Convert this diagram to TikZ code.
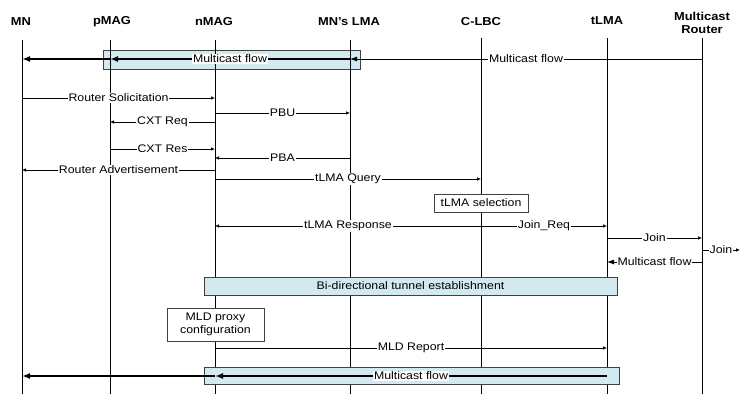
\documentclass[tikz,border=0pt]{standalone}
\usepackage{fontspec}
\setmainfont{Liberation Sans}[FakeStretch=1.12]
\usepackage{tikz}
\usetikzlibrary{arrows.meta,positioning}
\definecolor{bandblue}{RGB}{209,233,239}

\begin{document}
\begin{tikzpicture}[x=1pt,y=-1pt,font=\fontsize{11}{12.5}\selectfont,>={Latex[length=4pt,width=3.6pt]},
  actor/.style={font=\fontsize{11.5}{12.5}\selectfont\bfseries,align=center},
  life/.style={line width=0.8pt},
  msg/.style={->,line width=0.7pt},
  lbl/.style={fill=white,inner sep=1pt},
  flow/.style={line width=1.6pt,-{Latex[length=8pt,width=6pt]}},
  band/.style={draw=black!75,fill=bandblue,line width=0.8pt,inner sep=0pt},
  note/.style={draw=black!75,fill=white,line width=0.8pt,align=center,inner sep=0pt}]
  \useasboundingbox (0,0) rectangle (745,394);

  % participants
  \node[actor] (mn)   at (21,22)  {MN};
  \node[actor] (pmag) at (112,22) {pMAG};
  \node[actor] (nmag) at (214,22) {nMAG};
  \node[actor] (lma)  at (349,22) {MN’s LMA};
  \node[actor] (clbc) at (481,22) {C-LBC};
  \node[actor] (tlma) at (607,21) {tLMA};
  \node[actor] (mr)   at (702,23) {Multicast\\Router};

  % top of each lifeline
  \coordinate (mn-t)   at (22,40);
  \coordinate (pmag-t) at (110,40);
  \coordinate (nmag-t) at (215,40);
  \coordinate (lma-t)  at (350,40);
  \coordinate (clbc-t) at (481,38);
  \coordinate (tlma-t) at (607,38);
  \coordinate (mr-t)   at (702,38);
  \coordinate (bot)    at (0,394);

  % message rows
  \coordinate (r0)  at (0,59);
  \coordinate (r1)  at (0,98);
  \coordinate (r2)  at (0,113);
  \coordinate (r3)  at (0,122);
  \coordinate (r4)  at (0,149);
  \coordinate (r5)  at (0,158);
  \coordinate (r6)  at (0,170);
  \coordinate (r7)  at (0,179);
  \coordinate (r8)  at (0,226);
  \coordinate (r9)  at (0,238);
  \coordinate (r10) at (0,250);
  \coordinate (r11) at (0,262);
  \coordinate (r12) at (0,348);
  \coordinate (r13) at (0,376);
  \coordinate (joinEnd) at (740,250);

  \draw[band] (103,50) rectangle (360,69);

  % lifelines
  \foreach \p in {mn,pmag,nmag,lma,clbc,tlma,mr}
    \draw[life] (\p-t) -- (\p-t |- bot);

  % multicast flow before handover
  \draw[->,line width=0.9pt,>={Latex[length=7pt,width=5pt]}] (mr-t |- r0) -- node[lbl] {Multicast flow} (lma-t |- r0);
  \draw[flow] (lma-t |- r0) -- node[lbl] {Multicast flow} (pmag-t |- r0);
  \draw[flow] (pmag-t |- r0) -- (mn-t |- r0);

  \draw[msg] (mn-t |- r1) -- node[lbl] {Router Solicitation} (nmag-t |- r1);
  \draw[msg] (nmag-t |- r2) -- node[lbl] {PBU} (lma-t |- r2);
  \draw[msg] (nmag-t |- r3) -- node[lbl] {CXT Req} (pmag-t |- r3);
  \draw[msg] (pmag-t |- r4) -- node[lbl] {CXT Res} (nmag-t |- r4);
  \draw[msg] (lma-t |- r5) -- node[lbl] {PBA} (nmag-t |- r5);
  \draw[msg] (nmag-t |- r6) -- node[lbl] {Router Advertisement} (mn-t |- r6);
  \draw[msg] (nmag-t |- r7) -- node[lbl] {tLMA Query} (clbc-t |- r7);

  \node[note,minimum width=94pt,minimum height=18pt] (sel) at (481,203) {tLMA selection};

  \draw[msg] (clbc-t |- r8) -- node[lbl] {tLMA Response} (nmag-t |- r8);
  \draw[msg] (clbc-t |- r8) -- node[lbl] {Join\_Req} (tlma-t |- r8);
  \draw[msg] (tlma-t |- r9) -- node[lbl] {Join} (mr-t |- r9);
  \draw[msg] (mr-t |- r10) -- node[lbl] {Join} (joinEnd);
  \draw[->,line width=0.8pt,>={Latex[length=7pt,width=5pt]}] (mr-t |- r11) -- node[lbl] {Multicast flow} (tlma-t |- r11);

  \node[band,minimum width=413pt,minimum height=18pt] (tunnel) at (410.5,286) {Bi-directional tunnel establishment};
  \node[note,minimum width=97pt,minimum height=33pt] (proxy) at (215.5,324.5) {MLD proxy\\configuration};

  \draw[msg] (nmag-t |- r12) -- node[lbl] {MLD Report} (tlma-t |- r12);

  % multicast flow after handover
  \draw[band] (204,367) rectangle (619,384);
  \draw[flow] (tlma-t |- r13) -- node[lbl] {Multicast flow} (nmag-t |- r13);
  \draw[flow] (nmag-t |- r13) -- (mn-t |- r13);
\end{tikzpicture}
\end{document}
